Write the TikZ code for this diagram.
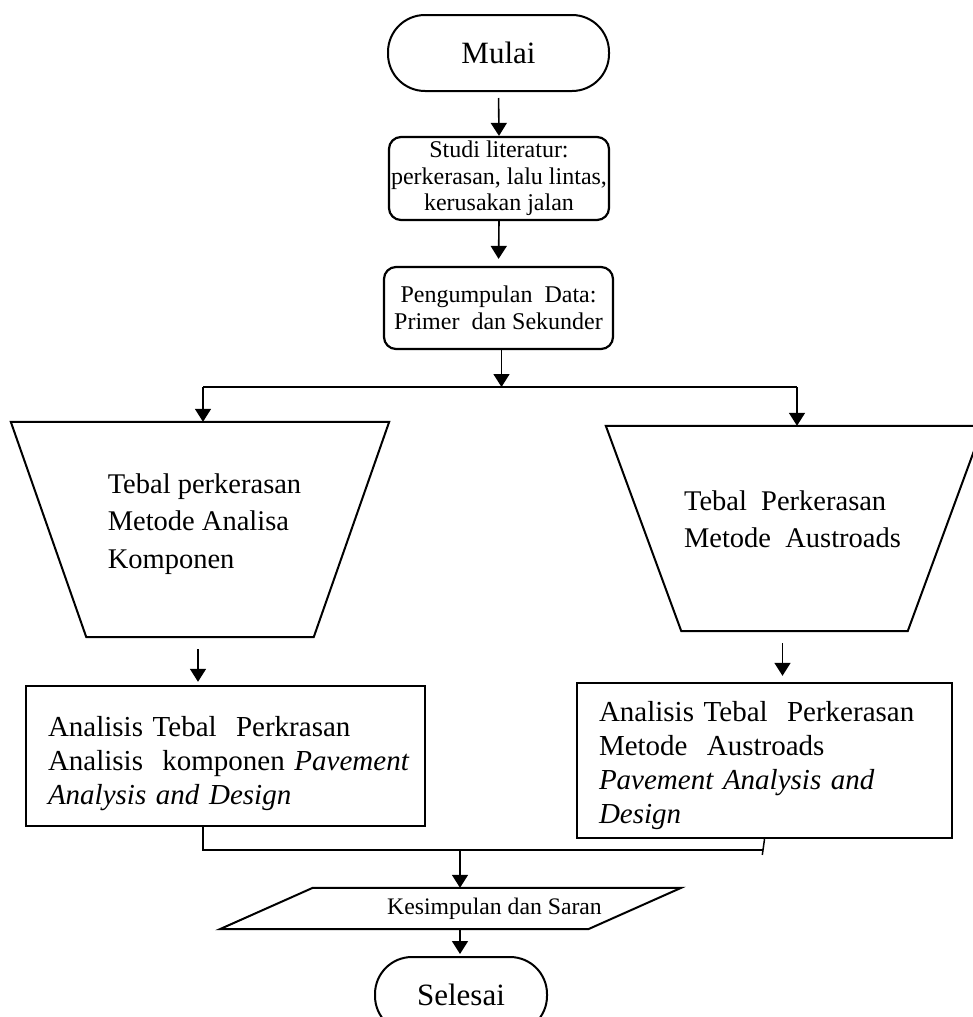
\documentclass[tikz,border=0pt]{standalone}
\usepackage{fontspec}
\setmainfont{Liberation Serif}
\usetikzlibrary{arrows.meta}
\begin{document}
\begin{tikzpicture}[x=1pt,y=-1pt,
    term/.style={draw,line width=2pt,rounded corners=37pt,minimum width=#1,minimum height=76pt,inner sep=0pt,font=\fontsize{31}{36}\selectfont},
    rbox/.style={draw,line width=2.2pt,rounded corners=12pt,minimum width=#1,minimum height=83pt,inner sep=2pt,align=center,font=\fontsize{24}{26.5}\selectfont},
    trap/.style={minimum width=#1,inner sep=0pt},
    traptext/.style={align=left,font=\fontsize{28.5}{37.5}\selectfont},
    sbox/.style={draw,line width=2.4pt,text width=#1,inner xsep=22pt,align=left,font=\fontsize{29}{34}\selectfont},
    para/.style={minimum width=368pt,minimum height=41pt,inner sep=0pt},
    arr/.style={-{Triangle[width=16pt,length=13pt]},line width=1.6pt}]
\useasboundingbox (0,0) rectangle (973,1017);
\clip (0,0) rectangle (973,1017);

\node[term=221pt] (mulai) at (498.5,53) {Mulai};
\node[rbox=220pt] (studi) at (499,178.5) {Studi literatur:\\perkerasan, lalu lintas,\\kerusakan jalan};
\node[rbox=229pt,minimum height=82pt] (peng) at (498.5,308) {Pengumpulan~ Data:\\Primer~ dan Sekunder};

\node[trap=378pt,minimum height=215pt,label={[traptext,xshift=4.5pt,yshift=5.5pt]center:Tebal perkerasan\\Metode Analisa\\Komponen}] (trapL) at (200,529.5) {};
\draw[line width=2pt] (trapL.north west) -- (trapL.north east)
  -- ([xshift=-75.5pt]trapL.south east) -- ([xshift=75.5pt]trapL.south west) -- cycle;
\node[trap=377pt,minimum height=205pt,label={[traptext,xshift=-2pt,yshift=9.5pt]center:Tebal~ Perkerasan\\Metode~ Austroads}] (trapR) at (794.5,528.5) {};
\draw[line width=2pt] (trapR.north west) -- (trapR.north east)
  -- ([xshift=-75.5pt]trapR.south east) -- ([xshift=75.5pt]trapR.south west) -- cycle;

\node[sbox=355pt,minimum height=140pt] (boxL) at (225.5,756) {\rule{0pt}{36pt}Analisis Tebal~ Perkrasan\\\mbox{Analisis~ komponen \textit{Pavement}}\\\textit{Analysis and Design}};
\node[sbox=331pt,minimum height=155pt] (boxR) at (764.5,760.5) {\rule{0pt}{30pt}Analisis Tebal~ Perkerasan\\Metode~ Austroads\\\textit{Pavement Analysis and}\\\textit{Design}};

\node[para,label={[xshift=44pt,font=\fontsize{23.7}{26}\selectfont]center:Kesimpulan dan Saran}] (kes) at (450.5,908.5) {};
\draw[line width=2pt] ([xshift=46.5pt]kes.north west) -- ([xshift=46.5pt]kes.north east)
  -- ([xshift=-46.5pt]kes.south east) -- ([xshift=-46.5pt]kes.south west) -- cycle;
\node[term=172pt] (selesai) at (461,995) {Selesai};

\coordinate (tl) at (203,387);
\coordinate (tr) at (797,387);
\coordinate (jl) at (203,850);
\coordinate (jr) at (763,850);
\coordinate (jm) at (460,850);

\draw[arr,shorten <=6pt] (mulai.south) -- (studi.north);
\draw[arr,shorten >=7pt] (studi.south) -- (peng.north);
\draw[arr] ([xshift=3pt]peng.south) -- ([xshift=3pt]peng.south |- tl);
\draw[line width=1.8pt] (tl) -- (tr);
\draw[arr] (tl) -- (tl |- trapL.north);
\draw[arr] (tr) -- (tr |- trapR.north);
\draw[arr,shorten <=12pt,shorten >=3pt] ([xshift=-2pt]trapL.south) -- ([xshift=-2pt]trapL.south |- boxL.north);
\draw[arr,shorten <=12pt,shorten >=6pt] ([xshift=-12pt]trapR.south) -- ([xshift=-12pt]trapR.south |- boxR.north);
\draw[line width=1.5pt] (jl |- boxL.south) -- (jl) -- (jr);
\draw[line width=1.5pt,shorten >=-5pt] (boxR.south) -- (jr);
\draw[arr] (jm) -- (jm |- kes.north);
\draw[arr,shorten >=2pt] (jm |- kes.south) -- (jm |- selesai.north);
\end{tikzpicture}
\end{document}
